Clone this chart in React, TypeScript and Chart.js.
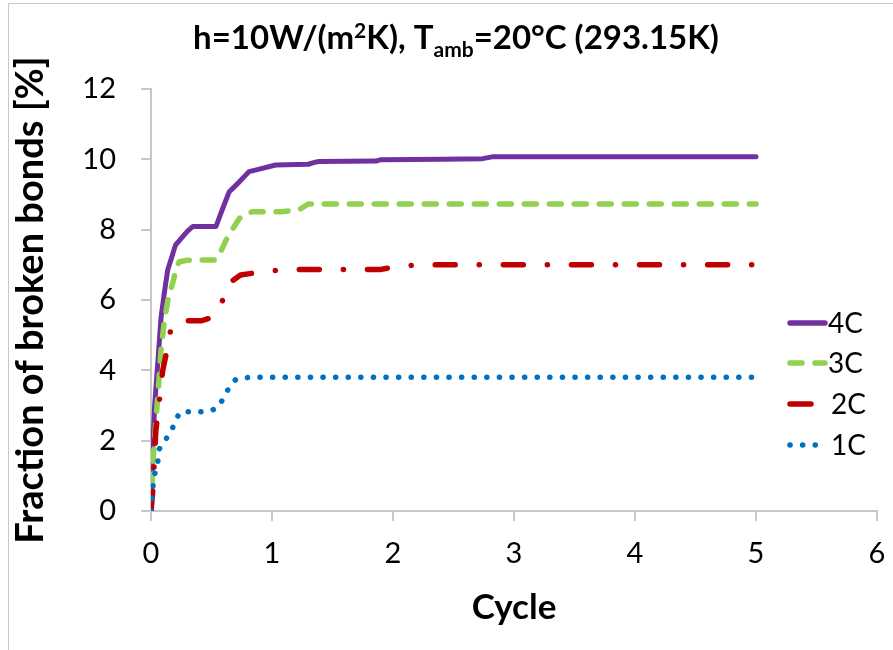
import React, { useEffect, useRef } from "react";
import { Chart, registerables } from "chart.js";

Chart.register(...registerables);

// ---- Data ----
const seriesNames = ["4C", "3C", "2C", "1C"];
const seriesColors = ["#7030A0", "#92D050", "#C00000", "#0070C0"];

const x4C = [0, 0.005, 0.015, 0.03, 0.056, 0.083, 0.11, 0.138, 0.17, 0.202, 0.262, 0.3, 0.345, 0.537, 0.578, 0.62, 0.647, 0.73, 0.81, 0.87, 1.03, 1.3, 1.36, 1.39, 1.86, 1.9, 2.41, 2.74, 2.82, 5.0];
const y4C = [0, 0.8, 1.8, 3.0, 4.2, 5.5, 6.2, 6.85, 7.2, 7.56, 7.8, 7.95, 8.09, 8.09, 8.47, 8.85, 9.08, 9.36, 9.65, 9.7, 9.84, 9.86, 9.92, 9.94, 9.95, 9.99, 10.0, 10.02, 10.07, 10.07];

const x3C = [0, 0.005, 0.015, 0.035, 0.056, 0.083, 0.11, 0.14, 0.186, 0.21, 0.235, 0.3, 0.537, 0.58, 0.62, 0.68, 0.73, 0.78, 0.84, 1.08, 1.22, 1.3, 5.0];
const y3C = [0, 0.5, 1.34, 2.3, 3.25, 4.57, 5.4, 6.0, 6.57, 6.95, 7.09, 7.13, 7.14, 7.4, 7.7, 8.05, 8.32, 8.45, 8.51, 8.51, 8.56, 8.73, 8.73];

const x2C = [0, 0.015, 0.04, 0.07, 0.097, 0.12, 0.16, 0.2, 0.24, 0.42, 0.5, 0.57, 0.64, 0.74, 0.95, 1.17, 1.9, 2.0, 2.2, 5.0];
const y2C = [0, 0.58, 2.29, 3.16, 4.0, 4.38, 5.1, 5.35, 5.41, 5.41, 5.5, 5.78, 6.47, 6.71, 6.82, 6.87, 6.87, 6.93, 7.0, 7.0];

const x1C = [0, 0.015, 0.03, 0.056, 0.07, 0.12, 0.17, 0.2, 0.245, 0.45, 0.54, 0.6, 0.64, 0.7, 0.81, 5.0];
const y1C = [0, 0.66, 1.03, 1.39, 1.77, 2.03, 2.27, 2.58, 2.82, 2.82, 2.91, 3.2, 3.48, 3.74, 3.8, 3.8];

const xTickValues = [0, 1, 2, 3, 4, 5, 6];
const yTickValues = [0, 2, 4, 6, 8, 10, 12];

const titleSegments = [
  { text: "h=10W/(m", kind: "normal" },
  { text: "2", kind: "sup" },
  { text: "K), T", kind: "normal" },
  { text: "amb", kind: "sub" },
  { text: "=20°C (293.15K)", kind: "normal" },
];
const yAxisTitle = "Fraction of broken bonds [%]";
const xAxisTitle = "Cycle";

const FONT = "Lato, 'Open Sans', sans-serif";

const dashes = [[], [12, 13], [20, 24, 0.1, 24], [0.1, 12.5]];

function toPoints(xs: number[], ys: number[]) {
  return xs.map((x, i) => ({ x, y: ys[i] }));
}

const seriesPoints = [toPoints(x4C, y4C), toPoints(x3C, y3C), toPoints(x2C, y2C), toPoints(x1C, y1C)];

const decorPlugin = {
  id: "decor",
  afterDraw(chart: any) {
    const ctx = chart.ctx as CanvasRenderingContext2D;
    ctx.save();
    // outer border (top & left visible)
    ctx.strokeStyle = "#c8c8c8";
    ctx.lineWidth = 1;
    ctx.beginPath();
    ctx.moveTo(8.5, 650);
    ctx.lineTo(8.5, 3.5);
    ctx.lineTo(893, 3.5);
    ctx.stroke();

    // title with superscript / subscript
    const mainFont = `bold 33px ${FONT}`;
    const smallFont = `bold 21px ${FONT}`;
    let total = 0;
    for (const s of titleSegments) {
      ctx.font = s.kind === "normal" ? mainFont : smallFont;
      total += ctx.measureText(s.text).width;
    }
    let x = 456 - total / 2;
    const base = 49;
    ctx.fillStyle = "#000";
    ctx.textBaseline = "alphabetic";
    ctx.textAlign = "left";
    for (const s of titleSegments) {
      ctx.font = s.kind === "normal" ? mainFont : smallFont;
      const dy = s.kind === "sup" ? -11 : s.kind === "sub" ? 8 : 0;
      ctx.fillText(s.text, x, base + dy);
      x += ctx.measureText(s.text).width;
    }

    // legend
    const legendY = [323, 363, 404, 445];
    ctx.font = `28px ${FONT}`;
    ctx.textBaseline = "middle";
    for (let i = 0; i < seriesNames.length; i++) {
      const y = legendY[i];
      ctx.strokeStyle = seriesColors[i];
      ctx.lineWidth = 5.5;
      ctx.lineCap = "round";
      ctx.setLineDash(dashes[i]);
      ctx.beginPath();
      if (i === 2) {
        ctx.setLineDash([]);
        ctx.moveTo(790, y);
        ctx.lineTo(811, y);
      } else {
        ctx.moveTo(790, y);
        ctx.lineTo(825, y);
      }
      ctx.stroke();
      ctx.setLineDash([]);
      ctx.fillStyle = "#000";
      ctx.fillText(seriesNames[i], i < 2 ? 828 : 831, y + 1);
    }
    ctx.restore();
  },
};

export default function App() {
  const ref = useRef<HTMLCanvasElement>(null);
  useEffect(() => {
    document.body.style.margin = "0";
    const canvas = ref.current!;
    const chart = new Chart(canvas, {
      type: "line",
      data: {
        datasets: seriesNames.map((name, i) => ({
          label: name,
          data: seriesPoints[i],
          borderColor: seriesColors[i],
          backgroundColor: seriesColors[i],
          borderWidth: i === 0 ? 5 : 5.5,
          borderDash: dashes[i],
          borderCapStyle: "round",
          borderJoinStyle: "round",
          pointRadius: 0,
          tension: 0,
          fill: false,
          order: 3 - i,
        })),
      },
      options: {
        animation: false,
        responsive: false,
        devicePixelRatio: 1,
        layout: { padding: { top: 89, right: 16, left: 0, bottom: 0 } },
        plugins: {
          legend: { display: false },
          tooltip: { enabled: false },
          title: { display: false },
        },
        scales: {
          x: {
            type: "linear",
            min: 0,
            max: 6,
            afterBuildTicks: (s: any) => {
              s.ticks = xTickValues.map((v) => ({ value: v }));
            },
            afterFit: (s: any) => {
              s.height = 139;
              s.paddingLeft = 0;
              s.paddingRight = 0;
            },
            ticks: {
              color: "#000",
              font: { family: FONT, size: 29 },
              padding: 15,
              maxRotation: 0,
            },
            grid: {
              drawOnChartArea: false,
              drawTicks: true,
              tickLength: 10,
              color: "#c8c8c8",
              lineWidth: 2,
            },
            border: { color: "#c8c8c8", width: 2 },
            title: {
              display: true,
              text: xAxisTitle,
              color: "#000",
              font: { family: FONT, size: 35, weight: "bold" },
              padding: { top: 0, bottom: 21 },
            },
          },
          y: {
            type: "linear",
            min: 0,
            max: 12,
            afterBuildTicks: (s: any) => {
              s.ticks = yTickValues.map((v) => ({ value: v }));
            },
            afterFit: (s: any) => {
              s.width = 151;
              s.paddingTop = 0;
              s.paddingBottom = 0;
            },
            ticks: {
              color: "#000",
              font: { family: FONT, size: 29 },
              padding: 25,
            },
            grid: {
              drawOnChartArea: false,
              drawTicks: true,
              tickLength: 10,
              color: "#c8c8c8",
              lineWidth: 2,
            },
            border: { color: "#c8c8c8", width: 2 },
            title: {
              display: true,
              text: yAxisTitle,
              color: "#000",
              font: { family: FONT, size: 38, weight: "bold" },
              padding: { top: 8, bottom: 0 },
            },
          },
        },
      },
      plugins: [decorPlugin],
    } as any);
    return () => chart.destroy();
  }, []);
  return <canvas ref={ref} width={893} height={650} style={{ display: "block" }} />;
}
